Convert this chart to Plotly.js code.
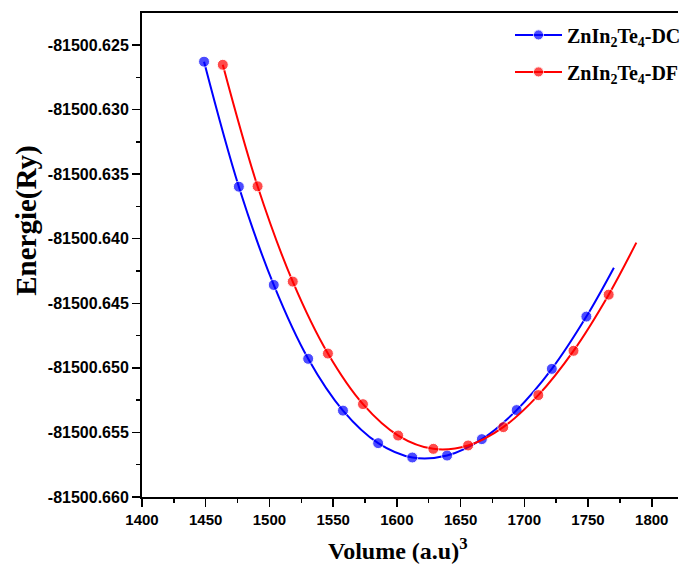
<!DOCTYPE html>
<html>
<head>
<meta charset="utf-8">
<script src="https://cdn.plot.ly/plotly-3.0.1.min.js"></script>
<style>html,body{margin:0;padding:0;background:#fff;}#chart{width:686px;height:567px;}</style>
</head>
<body>
<div id="chart"></div>
<script>
// Data points (markers)
const volumeDC = [1448.7, 1476.0, 1503.4, 1530.4, 1557.7, 1585.3, 1612.1, 1639.4, 1666.7, 1694.0, 1721.6, 1748.7];
const energyDC = [-81500.62629, -81500.63597, -81500.64358, -81500.64930, -81500.65331, -81500.65583,
                  -81500.65694, -81500.65679, -81500.65552, -81500.65327, -81500.65008, -81500.64603];
const volumeDF = [1463.4, 1490.7, 1518.3, 1545.9, 1573.4, 1601.0, 1628.6, 1655.9, 1683.5, 1711.0, 1738.6, 1766.2];
const energyDF = [-81500.62653, -81500.63594, -81500.64332, -81500.64889, -81500.65281, -81500.65524,
                  -81500.65627, -81500.65601, -81500.65459, -81500.65211, -81500.64868, -81500.64433];
// End of the fitted curves (line continues past last point)
const fitEndDC = [1770.3, -81500.64224];
const fitEndDF = [1787.9, -81500.64030];

const seriesNames = ['ZnIn<sub>2</sub>Te<sub>4</sub>-DC', 'ZnIn<sub>2</sub>Te<sub>4</sub>-DF'];
const yTickVals = [-81500.625, -81500.630, -81500.635, -81500.640, -81500.645, -81500.650, -81500.655, -81500.660];
const yTickText = ['-81500.625', '-81500.630', '-81500.635', '-81500.640', '-81500.645', '-81500.650', '-81500.655', '-81500.660'];
const xTickVals = [1400, 1450, 1500, 1550, 1600, 1650, 1700, 1750, 1800];
const xTitle = 'Volume (a.u)<sup>3</sup>';
const yTitle = 'Energie(Ry)';

function build(vx, vy, end, name, color, group) {
  const x = vx.concat([end[0]]);
  const y = vy.concat([end[1]]);
  const sizes = vx.map(() => 11).concat([0]);
  return {
    x: x, y: y, name: name, type: 'scatter', mode: 'lines+markers', legendgroup: group,
    line: {color: color, width: 2, shape: 'spline', smoothing: 1},
    marker: {color: color, size: sizes}
  };
}

const traces = [
  build(volumeDC, energyDC, fitEndDC, seriesNames[0], '#0000ff', 'a'),
  build(volumeDF, energyDF, fitEndDF, seriesNames[1], '#ff0000', 'b')
];

const xTickFont = {family: 'Liberation Sans, Arial, sans-serif', size: 15, color: '#000', weight: 'bold'};
const yTickFont = {family: 'Liberation Sans, Arial, sans-serif', size: 16, color: '#000', weight: 'bold'};
const serif = 'Liberation Serif, Times New Roman, serif';

const layout = {
  width: 686, height: 567,
  margin: {l: 142, r: 0, t: 13, b: 70},
  paper_bgcolor: '#fff', plot_bgcolor: '#fff',
  showlegend: true,
  legend: {
    x: 0.687, y: 0.995, xanchor: 'left', yanchor: 'top',
    font: {family: serif, size: 20, color: '#000', weight: 'bold'},
    bgcolor: 'rgba(0,0,0,0)', tracegroupgap: 8, itemwidth: 47
  },
  xaxis: {
    range: [1400, 1820.6],
    tickvals: xTickVals, ticktext: xTickVals.map(String),
    ticks: 'outside', ticklen: 8, tickwidth: 1.5, tickcolor: '#000',
    minor: {dtick: 25, tick0: 1400, ticks: 'outside', ticklen: 4, tickwidth: 1.5, tickcolor: '#000'},
    showline: true, linecolor: '#000', linewidth: 2, mirror: true,
    showgrid: false, zeroline: false,
    tickfont: xTickFont
  },
  yaxis: {
    range: [-81500.66, -81500.62252],
    tickvals: yTickVals, ticktext: yTickText,
    ticks: 'outside', ticklen: 8, tickwidth: 1.5, tickcolor: '#000',
    minor: {dtick: 0.0025, tick0: -81500.66, ticks: 'outside', ticklen: 4, tickwidth: 1.5, tickcolor: '#000'},
    showline: true, linecolor: '#000', linewidth: 2,
    showgrid: false, zeroline: false,
    tickfont: yTickFont
  },
  annotations: [
    {text: xTitle, xref: 'paper', yref: 'paper', x: 0.478, y: -0.108, xanchor: 'center', yanchor: 'middle',
     showarrow: false, font: {family: serif, size: 24, color: '#000', weight: 'bold'}},
    {text: yTitle, xref: 'paper', yref: 'paper', x: -0.217, y: 0.57, xanchor: 'center', yanchor: 'middle',
     textangle: -90, showarrow: false, font: {family: serif, size: 29, color: '#000', weight: 'bold'}}
  ]
};

Plotly.newPlot('chart', traces, layout, {displayModeBar: false, staticPlot: true});
</script>
</body>
</html>
